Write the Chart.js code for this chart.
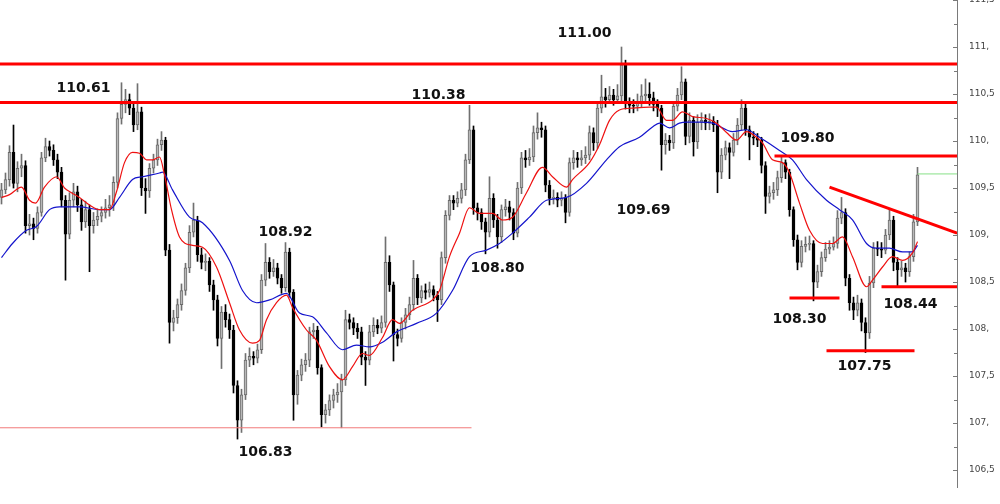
<!DOCTYPE html>
<html>
<head>
<meta charset="utf-8">
<script src="https://cdn.jsdelivr.net/npm/chart.js@4/dist/chart.umd.min.js"></script>
<style>
  html, body { margin: 0; padding: 0; background: #ffffff; }
  #wrap { position: relative; width: 1000px; height: 504px; }
</style>
</head>
<body>
<div id="wrap"><canvas id="chart"></canvas></div>
<script>
// candles, left to right
const opens = [
	109.40, 109.48, 109.59, 109.88, 109.55, 109.71, 109.74, 109.10, 109.12, 109.07,
	109.24, 109.82, 109.94, 109.90, 109.80, 109.67, 109.37, 109.01, 109.37, 109.46,
	109.32, 109.14, 109.27, 109.10, 109.16, 109.20, 109.24, 109.29, 109.32, 109.56,
	110.24, 110.39, 110.44, 110.35, 110.17, 110.31, 109.50, 109.47, 109.71, 109.80,
	109.96, 110.01, 108.84, 108.07, 108.12, 108.26, 108.41, 108.65, 109.03, 109.16,
	108.79, 108.71, 108.72, 108.47, 108.31, 107.90, 108.18, 108.10, 107.99, 107.40,
	107.03, 107.30, 107.67, 107.71, 107.69, 107.78, 108.52, 108.71, 108.61, 108.65,
	108.54, 108.44, 108.82, 108.39, 107.30, 107.51, 107.62, 107.67, 107.97, 107.99,
	107.59, 107.09, 107.14, 107.24, 107.30, 107.33, 107.46, 108.10, 108.07, 108.01,
	107.97, 107.70, 107.67, 107.97, 108.04, 108.01, 108.07, 108.71, 108.47, 107.94,
	107.90, 108.07, 108.15, 108.26, 108.54, 108.33, 108.41, 108.39, 108.42, 108.36,
	108.31, 108.76, 109.21, 109.37, 109.34, 109.39, 109.48, 109.80, 110.12, 109.29,
	109.24, 109.14, 109.03, 109.39, 109.16, 108.98, 109.27, 109.30, 109.24, 109.02,
	109.50, 109.82, 109.80, 109.83, 110.09, 110.14, 110.12, 109.53, 109.39, 109.40,
	109.37, 109.39, 109.24, 109.77, 109.82, 109.80, 109.82, 109.85, 110.09, 109.98,
	110.35, 110.47, 110.44, 110.49, 110.44, 110.48, 110.81, 110.40, 110.38, 110.37,
	110.41, 110.48, 110.50, 110.46, 110.39, 110.35, 109.96, 110.01, 109.98, 110.37,
	110.49, 110.63, 110.05, 110.22, 109.99, 110.20, 110.22, 110.19, 110.21, 110.17,
	109.67, 109.85, 109.93, 109.88, 110.01, 110.17, 110.35, 110.12, 110.04, 110.03,
	110.01, 109.74, 109.41, 109.45, 109.48, 109.61, 109.77, 109.67, 109.27, 108.95,
	108.71, 108.88, 108.90, 108.91, 108.50, 108.61, 108.76, 108.85, 108.87, 108.91,
	109.18, 109.24, 108.54, 108.28, 108.20, 108.28, 108.07, 107.96, 108.49, 108.86,
	108.85, 108.84, 109.00, 109.16, 108.71, 108.63, 108.65, 108.61, 108.77, 109.14
];
const highs = [
	109.55, 109.66, 109.95, 110.17, 109.78, 109.86, 109.79, 109.22, 109.18, 109.30,
	109.88, 110.03, 110.00, 109.96, 109.86, 109.72, 109.42, 109.45, 109.55, 109.52,
	109.38, 109.36, 109.32, 109.24, 109.28, 109.30, 109.38, 109.42, 109.62, 110.30,
	110.62, 110.55, 110.50, 110.40, 110.61, 110.36, 109.60, 109.76, 109.86, 110.02,
	110.10, 110.04, 108.90, 108.20, 108.32, 108.48, 108.70, 109.10, 109.34, 109.20,
	108.86, 108.80, 108.76, 108.52, 108.36, 108.24, 108.26, 108.16, 108.04, 107.45,
	107.36, 107.74, 107.80, 107.76, 107.84, 108.58, 108.91, 108.76, 108.74, 108.70,
	108.58, 108.92, 108.86, 108.42, 107.56, 107.68, 107.74, 108.02, 108.06, 108.03,
	107.62, 107.20, 107.30, 107.36, 107.42, 107.52, 108.20, 108.16, 108.12, 108.06,
	108.02, 107.76, 108.04, 108.12, 108.10, 108.14, 108.98, 108.78, 108.50, 108.00,
	108.12, 108.22, 108.34, 108.73, 108.58, 108.46, 108.48, 108.50, 108.46, 108.40,
	108.82, 109.26, 109.42, 109.42, 109.46, 109.55, 109.86, 110.38, 110.16, 109.34,
	109.28, 109.18, 109.62, 109.44, 109.22, 109.32, 109.38, 109.36, 109.28, 109.56,
	109.88, 109.90, 109.92, 110.16, 110.30, 110.20, 110.16, 109.58, 109.48, 109.45,
	109.46, 109.43, 109.82, 109.90, 109.88, 109.90, 109.94, 110.16, 110.14, 110.42,
	110.70, 110.56, 110.58, 110.55, 110.60, 111.00, 110.86, 110.46, 110.44, 110.50,
	110.60, 110.66, 110.62, 110.52, 110.44, 110.38, 110.08, 110.06, 110.42, 110.56,
	110.79, 110.66, 110.30, 110.26, 110.28, 110.30, 110.28, 110.29, 110.26, 110.22,
	109.92, 110.00, 109.98, 110.08, 110.24, 110.44, 110.40, 110.16, 110.10, 110.08,
	110.04, 109.78, 109.52, 109.56, 109.68, 109.83, 109.80, 109.70, 109.30, 109.00,
	108.94, 108.98, 108.99, 108.94, 108.68, 108.82, 108.92, 108.94, 108.98, 109.26,
	109.40, 109.28, 108.58, 108.34, 108.36, 108.32, 108.12, 108.56, 108.92, 108.93,
	108.92, 109.06, 109.27, 109.20, 108.76, 108.72, 108.70, 108.82, 109.22, 109.72
];
const lows = [
	109.33, 109.44, 109.52, 109.50, 109.46, 109.62, 109.02, 109.00, 108.95, 109.02,
	109.20, 109.78, 109.84, 109.74, 109.60, 109.30, 108.52, 108.96, 109.30, 109.25,
	109.05, 109.08, 108.61, 109.02, 109.10, 109.14, 109.18, 109.20, 109.26, 109.50,
	110.18, 110.30, 110.28, 110.10, 110.12, 109.42, 109.23, 109.40, 109.66, 109.74,
	109.90, 108.78, 107.85, 107.98, 108.06, 108.20, 108.36, 108.60, 108.98, 108.72,
	108.64, 108.62, 108.40, 108.20, 107.82, 107.58, 108.02, 107.90, 107.32, 106.83,
	106.90, 107.25, 107.60, 107.62, 107.64, 107.74, 108.46, 108.54, 108.56, 108.48,
	108.38, 108.40, 108.34, 107.03, 107.20, 107.45, 107.55, 107.60, 107.90, 107.52,
	106.96, 107.00, 107.08, 107.16, 107.22, 106.95, 107.40, 108.00, 107.94, 107.90,
	107.62, 107.40, 107.62, 107.92, 107.95, 107.96, 108.02, 108.40, 107.66, 107.82,
	107.86, 108.00, 108.10, 108.20, 108.26, 108.28, 108.32, 108.34, 108.30, 108.08,
	108.26, 108.70, 109.16, 109.27, 109.30, 109.34, 109.42, 109.76, 109.22, 109.16,
	109.06, 108.80, 108.98, 109.08, 108.86, 108.92, 109.20, 109.16, 108.95, 108.98,
	109.44, 109.72, 109.74, 109.78, 110.02, 110.04, 109.46, 109.32, 109.33, 109.30,
	109.31, 109.13, 109.20, 109.70, 109.72, 109.74, 109.76, 109.80, 109.90, 109.92,
	110.30, 110.36, 110.40, 110.38, 110.40, 110.42, 110.34, 110.30, 110.30, 110.32,
	110.36, 110.40, 110.38, 110.32, 110.26, 109.69, 109.86, 109.90, 109.92, 110.32,
	110.44, 109.96, 109.98, 109.84, 109.92, 110.12, 110.12, 110.12, 110.10, 109.45,
	109.60, 109.80, 109.60, 109.84, 109.96, 110.12, 110.06, 109.80, 109.96, 109.94,
	109.66, 109.23, 109.34, 109.38, 109.42, 109.56, 109.60, 109.20, 108.88, 108.63,
	108.66, 108.82, 108.84, 108.30, 108.44, 108.56, 108.72, 108.80, 108.84, 108.86,
	109.12, 108.46, 108.20, 108.10, 108.14, 107.98, 107.75, 107.90, 108.44, 108.78,
	108.76, 108.80, 108.95, 108.62, 108.44, 108.56, 108.50, 108.56, 108.72, 109.10
];
const closes = [
	109.48, 109.59, 109.88, 109.55, 109.71, 109.74, 109.10, 109.12, 109.07, 109.24,
	109.82, 109.94, 109.90, 109.80, 109.67, 109.37, 109.01, 109.37, 109.46, 109.32,
	109.14, 109.27, 109.10, 109.16, 109.20, 109.24, 109.29, 109.32, 109.56, 110.24,
	110.39, 110.44, 110.35, 110.17, 110.31, 109.50, 109.47, 109.71, 109.80, 109.96,
	110.01, 108.84, 108.07, 108.12, 108.26, 108.41, 108.65, 109.03, 109.16, 108.79,
	108.71, 108.72, 108.47, 108.31, 107.90, 108.18, 108.10, 107.99, 107.40, 107.03,
	107.30, 107.67, 107.71, 107.69, 107.78, 108.52, 108.71, 108.61, 108.65, 108.54,
	108.44, 108.82, 108.39, 107.30, 107.51, 107.62, 107.67, 107.97, 107.99, 107.59,
	107.09, 107.14, 107.24, 107.30, 107.33, 107.46, 108.10, 108.07, 108.01, 107.97,
	107.70, 107.67, 107.97, 108.04, 108.01, 108.07, 108.71, 108.47, 107.94, 107.90,
	108.07, 108.15, 108.26, 108.54, 108.33, 108.41, 108.39, 108.42, 108.36, 108.31,
	108.76, 109.21, 109.37, 109.34, 109.39, 109.48, 109.80, 110.12, 109.29, 109.24,
	109.14, 109.03, 109.39, 109.16, 108.98, 109.27, 109.30, 109.24, 109.02, 109.50,
	109.82, 109.80, 109.83, 110.09, 110.14, 110.12, 109.53, 109.39, 109.40, 109.37,
	109.39, 109.24, 109.77, 109.82, 109.80, 109.82, 109.85, 110.09, 109.98, 110.35,
	110.47, 110.44, 110.49, 110.44, 110.48, 110.81, 110.40, 110.38, 110.37, 110.41,
	110.48, 110.50, 110.46, 110.39, 110.35, 109.96, 110.01, 109.98, 110.37, 110.49,
	110.63, 110.05, 110.22, 109.99, 110.20, 110.22, 110.19, 110.21, 110.17, 109.67,
	109.85, 109.93, 109.88, 110.01, 110.17, 110.35, 110.12, 110.04, 110.03, 110.01,
	109.74, 109.41, 109.45, 109.48, 109.61, 109.77, 109.67, 109.27, 108.95, 108.71,
	108.88, 108.90, 108.91, 108.50, 108.61, 108.76, 108.85, 108.87, 108.91, 109.18,
	109.24, 108.54, 108.28, 108.20, 108.28, 108.07, 107.96, 108.49, 108.86, 108.85,
	108.84, 109.00, 109.16, 108.71, 108.63, 108.65, 108.61, 108.77, 109.14, 109.64
];

// moving averages, sampled at candle positions
const redX = [0, 2, 5, 7, 8.5, 10.75, 13.75, 15.75, 17.5, 19.5, 22, 24.5, 27, 28.75, 30.75, 32.75, 34.5, 36.25, 37.75, 39.5,
	40.75, 42.5, 44.5, 47.75, 50.25, 53.75, 57, 59.5, 62.75, 64.5, 66.25, 68.75, 71.25, 72.75, 76.25, 78.75, 82, 85.25, 87.75, 90.25,
	92, 95.25, 97.75, 99.5, 102.75, 107.75, 109.5, 112, 114.5, 117, 119.5, 122.75, 125.25, 127.75, 131.25, 135.25, 137.75, 141.25, 142.75, 147,
	149.5, 152, 154.5, 157.75, 162, 163.75, 166.25, 167.75, 170.25, 172.75, 176.25, 178.75, 181.25, 183.75, 186.25, 188.75, 190.25, 192.75, 195.25, 197,
	199.5, 202, 205.25, 207.75, 210.25, 212.75, 216.25, 217.75, 220.25, 222.75, 225.25, 227.75, 229];
const redY = [109.40, 109.43, 109.51, 109.37, 109.34, 109.51, 109.62, 109.50, 109.45, 109.40, 109.32, 109.27, 109.27, 109.46, 109.77, 109.88, 109.87, 109.80, 109.80, 109.83,
	109.64, 109.27, 108.98, 108.89, 108.87, 108.66, 108.28, 107.99, 107.85, 107.88, 108.10, 108.28, 108.36, 108.23, 107.99, 107.88, 107.60, 107.46, 107.60, 107.74,
	107.72, 107.91, 108.10, 108.06, 108.20, 108.31, 108.41, 108.77, 109.02, 109.29, 109.23, 109.23, 109.16, 109.19, 109.45, 109.72, 109.62, 109.51, 109.59, 109.77,
	109.96, 110.22, 110.33, 110.35, 110.36, 110.36, 110.22, 110.22, 110.31, 110.26, 110.24, 110.19, 110.09, 110.01, 110.10, 110.04, 109.98, 109.80, 109.77, 109.66,
	109.34, 109.05, 108.91, 108.91, 108.98, 108.77, 108.45, 108.52, 108.66, 108.77, 108.73, 108.81, 108.93];
const blueX = [0, 2.75, 6.25, 8.75, 12, 14.5, 19.5, 24.5, 27, 29.5, 32.75, 35.25, 39.5, 40.25, 42.75, 47, 50.25, 57, 60.25, 63.75,
	67, 71.25, 74.5, 77.75, 81.25, 85.25, 88.75, 92, 95.25, 98.75, 103.75, 108.75, 112.75, 117, 121.25, 124.5, 127.75, 132, 136.25, 141.25,
	146.25, 151.25, 154.5, 159.5, 162.75, 164.5, 167, 169.5, 171.25, 174.5, 177.75, 182.75, 186.25, 189.5, 194.5, 197.75, 201.25, 206.25, 209.5, 212.75,
	216.25, 218.75, 222, 225.25, 227.75, 229];
const blueY = [108.76, 108.91, 109.05, 109.09, 109.27, 109.30, 109.30, 109.27, 109.27, 109.40, 109.59, 109.62, 109.66, 109.67, 109.48, 109.19, 109.13, 108.73, 108.41, 108.28,
	108.31, 108.38, 108.17, 108.13, 107.96, 107.78, 107.83, 107.81, 107.86, 107.97, 108.06, 108.17, 108.41, 108.77, 108.84, 108.91, 109.02, 109.19, 109.37, 109.40,
	109.55, 109.80, 109.94, 110.04, 110.15, 110.19, 110.14, 110.19, 110.20, 110.20, 110.19, 110.10, 110.12, 110.04, 109.90, 109.80, 109.59, 109.37, 109.27, 109.16,
	108.91, 108.86, 108.86, 108.82, 108.82, 108.89];

// y axis
const yMin = 106.32;
const yMax = 111.5;
const xMin = -0.375;
const xMax = 238.875;

function axisLabel(value) {
	const v = Math.round(value * 4) / 4;
	if (Math.abs(v * 2 - Math.round(v * 2)) > 1e-6) return '';
	if (v % 1 === 0) return `${v},`;
	return String(v).replace('.', ',');
}

const candleBodies = [];
const candleWicks = [];
const bodyFill = [];
const bodyBorder = [];
const wickColor = [];
for (let i = 0; i < closes.length; i++) {
	const up = closes[i] >= opens[i];
	candleBodies.push({ x: i, y: [opens[i], closes[i]] });
	candleWicks.push({ x: i, y: [lows[i], highs[i]] });
	bodyFill.push(up ? '#b8b8b8' : '#000000');
	bodyBorder.push(up ? '#6a6a6a' : '#000000');
	wickColor.push(up ? '#707070' : '#000000');
}

const toPoints = (xs, ys) => xs.map((x, i) => ({ x: x, y: ys[i] }));

function segment(x0, x1, y0, y1, color, width) {
	return {
		type: 'line',
		data: [{ x: x0, y: y0 }, { x: x1, y: y1 }],
		borderColor: color,
		borderWidth: width,
		pointRadius: 0,
		order: 1
	};
}

const overlay = {
	id: 'overlay',
	afterDraw(chart) {
		const ctx = chart.ctx;
		const xs = chart.scales.x;
		const ys = chart.scales.y;
		ctx.save();
		ctx.strokeStyle = '#7a7a7a';
		ctx.lineWidth = 1;
		ys.ticks.forEach(t => {
			const y = Math.round(ys.getPixelForValue(t.value)) + 0.5;
			const major = axisLabel(t.value) !== '';
			ctx.beginPath();
			ctx.moveTo(ys.left - (major ? 4 : 3), y);
			ctx.lineTo(ys.left, y);
			ctx.stroke();
		});

		const notes = [
			['110.61', 20.5, 110.56], ['110.38', 109.25, 110.49], ['111.00', 145.75, 111.15],
			['109.80', 201.5, 110.03], ['109.69', 160.5, 109.26], ['108.92', 71, 109.03],
			['108.80', 124, 108.65], ['106.83', 66, 106.69], ['108.30', 199.5, 108.10],
			['108.44', 227.25, 108.26], ['107.75', 215.75, 107.60]
		];
		ctx.fillStyle = '#111111';
		ctx.font = 'bold 14px "DejaVu Sans"';
		ctx.textAlign = 'center';
		ctx.textBaseline = 'middle';
		notes.forEach(n => ctx.fillText(n[0], xs.getPixelForValue(n[1]), ys.getPixelForValue(n[2])));
		ctx.restore();
	}
};

new Chart(document.getElementById('chart'), {
	data: {
		datasets: [
			segment(xMin, xMax, 110.82, 110.82, '#ff0000', 3),
			segment(xMin, xMax, 110.41, 110.41, '#ff0000', 3),
			segment(193.25, xMax, 109.84, 109.84, '#ff0000', 3),
			segment(207, xMax, 109.51, 109.02, '#ff0000', 3),
			segment(197, 209.5, 108.33, 108.33, '#ff0000', 3),
			segment(206.25, 228.25, 107.77, 107.77, '#ff0000', 3),
			segment(220, xMax, 108.45, 108.45, '#ff0000', 3),
			segment(xMin, 117.5, 106.95, 106.95, '#f27a7a', 1),
			segment(229, xMax, 109.65, 109.65, '#86e086', 1),
			{
				type: 'line',
				data: toPoints(redX, redY),
				borderColor: '#ee1111',
				borderWidth: 1.2,
				pointRadius: 0,
				cubicInterpolationMode: 'monotone',
				order: 2
			},
			{
				type: 'line',
				data: toPoints(blueX, blueY),
				borderColor: '#1414cc',
				borderWidth: 1.2,
				pointRadius: 0,
				cubicInterpolationMode: 'monotone',
				order: 2
			},
			{
				type: 'bar',
				data: candleBodies,
				backgroundColor: bodyFill,
				borderColor: bodyBorder,
				borderWidth: 1,
				borderSkipped: false,
				barThickness: 3,
				minBarLength: 1,
				grouped: false,
				order: 3
			},
			{
				type: 'bar',
				data: candleWicks,
				backgroundColor: wickColor,
				borderWidth: 0,
				barThickness: 1,
				grouped: false,
				order: 4
			}
		]
	},
	options: {
		responsive: true,
		maintainAspectRatio: false,
		animation: false,
		layout: { padding: { left: 0, right: 0, top: 0, bottom: 17 } },
		plugins: {
			legend: { display: false },
			tooltip: { enabled: false }
		},
		scales: {
			x: {
				type: 'linear',
				display: false,
				offset: false,
				min: xMin,
				max: xMax
			},
			y: {
				type: 'linear',
				position: 'right',
				min: yMin,
				max: yMax,
				grid: { display: false },
				border: { display: true, color: '#7a7a7a', width: 1 },
				ticks: {
					stepSize: 0.25,
					padding: 4,
					color: '#444444',
					font: { family: 'DejaVu Sans', size: 9 },
					callback: value => axisLabel(value)
				},
				afterBuildTicks: scale => {
					scale.ticks = scale.ticks.filter(t => Math.abs(t.value * 4 - Math.round(t.value * 4)) < 1e-6);
				},
				afterFit: scale => {
					scale.width = 43;
					scale.paddingTop = 0;
					scale.paddingBottom = 0;
				}
			}
		}
	},
	plugins: [overlay]
});
</script>
</body>
</html>
